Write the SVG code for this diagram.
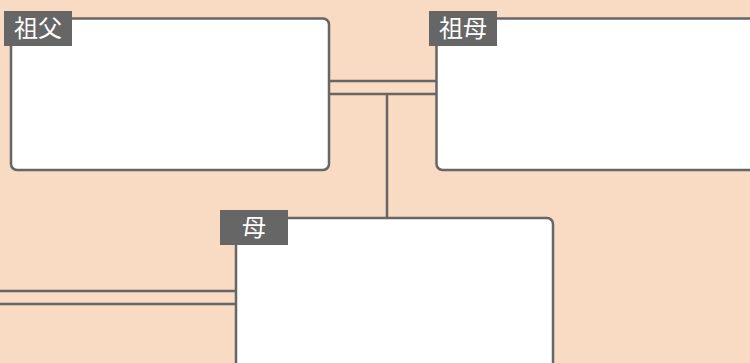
<svg xmlns="http://www.w3.org/2000/svg" width="750" height="363" viewBox="0 0 750 363">
<style>
.box{fill:#fff;stroke:#666;stroke-width:2.5}
.lab{fill:#666}
.lt{fill:#fff;font-family:"Noto Sans CJK JP","Noto Sans CJK SC",sans-serif;font-size:24px;text-anchor:middle}
.con{stroke:#666;stroke-width:2.5;fill:none}
</style>
<rect x="0" y="0" width="750" height="363" fill="#f8dbc2"/>
<g id="connectors">
<line class="con" x1="329" y1="81" x2="436" y2="81"/>
<line class="con" x1="329" y1="94" x2="436" y2="94"/>
<line class="con" x1="387" y1="94" x2="387" y2="218"/>
<line class="con" x1="0" y1="291" x2="236" y2="291"/>
<line class="con" x1="0" y1="304" x2="236" y2="304"/>
</g>
<g id="grandfather">
<rect class="box" x="11" y="18.5" width="318" height="151.5" rx="6"/>
<rect class="lab" x="4" y="11" width="68" height="35"/>
<text class="lt" x="38" y="37">祖父</text>
</g>
<g id="grandmother">
<rect class="box" x="436.5" y="18.5" width="330" height="151.5" rx="6"/>
<rect class="lab" x="429" y="11" width="68" height="35"/>
<text class="lt" x="463" y="37">祖母</text>
</g>
<g id="mother">
<rect class="box" x="236" y="218" width="317" height="170" rx="6"/>
<rect class="lab" x="220" y="210" width="68" height="35"/>
<text class="lt" x="254" y="236">母</text>
</g>
</svg>
